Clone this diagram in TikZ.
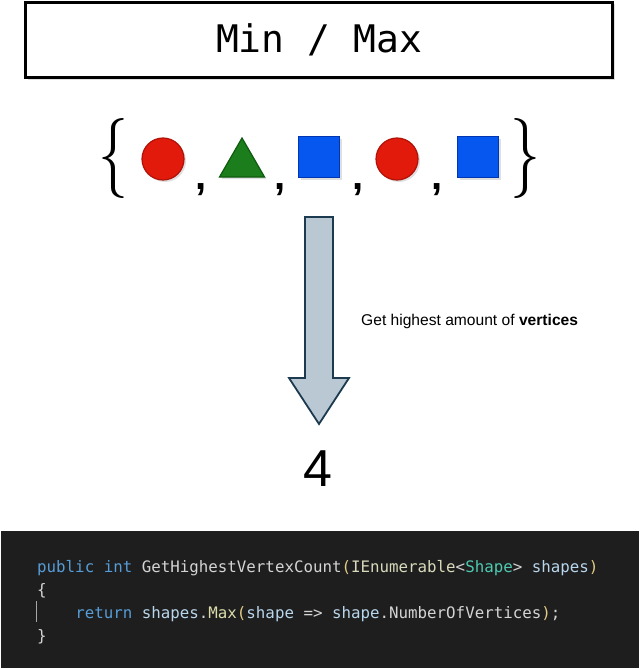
\documentclass[tikz,border=0pt]{standalone}
\usepackage{fontspec}
\usepackage{tikz}
\usetikzlibrary{shapes.geometric,shadows}
\newfontfamily\monofont{DejaVu Sans Mono}
\newfontfamily\arialfont{Liberation Sans}
\definecolor{redfill}{HTML}{E21A0C}
\definecolor{redline}{HTML}{B01208}
\definecolor{greenfill}{HTML}{1B7D1B}
\definecolor{greenline}{HTML}{0F5C0F}
\definecolor{bluefill}{HTML}{0656F0}
\definecolor{blueline}{HTML}{0236B0}
\definecolor{arrowfill}{HTML}{B9C8D3}
\definecolor{arrowline}{HTML}{1C3A50}
\definecolor{codebg}{HTML}{1E1E1E}
\definecolor{kw}{HTML}{569CD6}
\definecolor{txt}{HTML}{D4D4D4}
\definecolor{typ}{HTML}{4EC9B0}
\definecolor{var}{HTML}{B8D6EC}
\definecolor{fun}{HTML}{DCDCAA}
\definecolor{par}{HTML}{E2CB86}

\begin{document}
\begin{tikzpicture}[x=1pt, y=-1pt,
    shad/.style={drop shadow={opacity=0.25, shadow xshift=2pt, shadow yshift=-2pt}},
    item/.style={shad, inner sep=0pt, line width=1.2pt},
    sep/.style={font=\arialfont\bfseries\fontsize{40}{40}\selectfont, anchor=base, inner sep=0pt},
    brace/.style={font=\fontsize{80}{80}\selectfont, anchor=base, inner sep=0pt},
    code/.style={font=\monofont\fontsize{15.8}{15.8}\selectfont, anchor=base west, inner sep=0pt, text=txt}]
    \useasboundingbox (0,0) rectangle (640,669);

    \node[draw, line width=3pt, fill=white, shad, minimum width=587pt, minimum height=75pt, font=\monofont\fontsize{38}{38}\selectfont] (T) at (319,40) {Min / Max};

    \node[brace] (B1) at (113,178) {\scalebox{0.75}[1]{\{}};
    \node[brace] (B2) at (525,178) {\scalebox{0.75}[1]{\}}};
    \node[item, circle, fill=redfill, draw=redline, minimum size=42pt] (S1) at (163,159) {};
    \node[item, regular polygon, regular polygon sides=3, fill=greenfill, draw=greenline, minimum size=52pt] (S2) at (242,164) {};
    \node[item, rectangle, fill=bluefill, draw=blueline, minimum size=41pt] (S3) at (319,157) {};
    \node[item, circle, fill=redfill, draw=redline, minimum size=42pt] (S4) at (397,159) {};
    \node[item, rectangle, fill=bluefill, draw=blueline, minimum size=41pt] (S5) at (478,157) {};
    \node[sep] (C1) at (201,189) {,};
    \node[sep] (C2) at (280,189) {,};
    \node[sep] (C3) at (358,189) {,};
    \node[sep] (C4) at (437,189) {,};

    \draw[fill=arrowfill, draw=arrowline, line width=1.8pt, line join=miter]
        (305,217) -- (333,217) -- (333,378) -- (349,378) -- (319,424) -- (289,378) -- (305,378) -- cycle;
    \node[anchor=west, inner sep=0pt, font=\arialfont\fontsize{15.6}{15.6}\selectfont] (L) at (361,321) {Get highest amount of \textbf{vertices}};
    \node[inner sep=0pt, font=\arialfont\fontsize{52}{52}\selectfont] (N) at (318,469) {4};

    \fill[codebg] (1,531) rectangle (639,668);
    \draw[gray!70, line width=0.8pt] (36,601) -- (36,622);
    \node[code] (K1) at (37,572) {\textcolor{kw}{public int} GetHighestVertexCount\textcolor{par}{(}\textcolor{fun!60!txt}{IEnumerable}<\textcolor{typ}{Shape}> \textcolor{var}{shapes}\textcolor{par}{)}};
    \node[code] (K2) at (37,595) {\{};
    \node[code] (K3) at (37,618) {\phantom{1234}\textcolor{kw}{return} \textcolor{var}{shapes}.\textcolor{fun}{Max}\textcolor{par}{(}\textcolor{var}{shape} => \textcolor{var}{shape}.NumberOfVertices\textcolor{par}{)};};
    \node[code] (K4) at (37,641) {\}};
\end{tikzpicture}
\end{document}
